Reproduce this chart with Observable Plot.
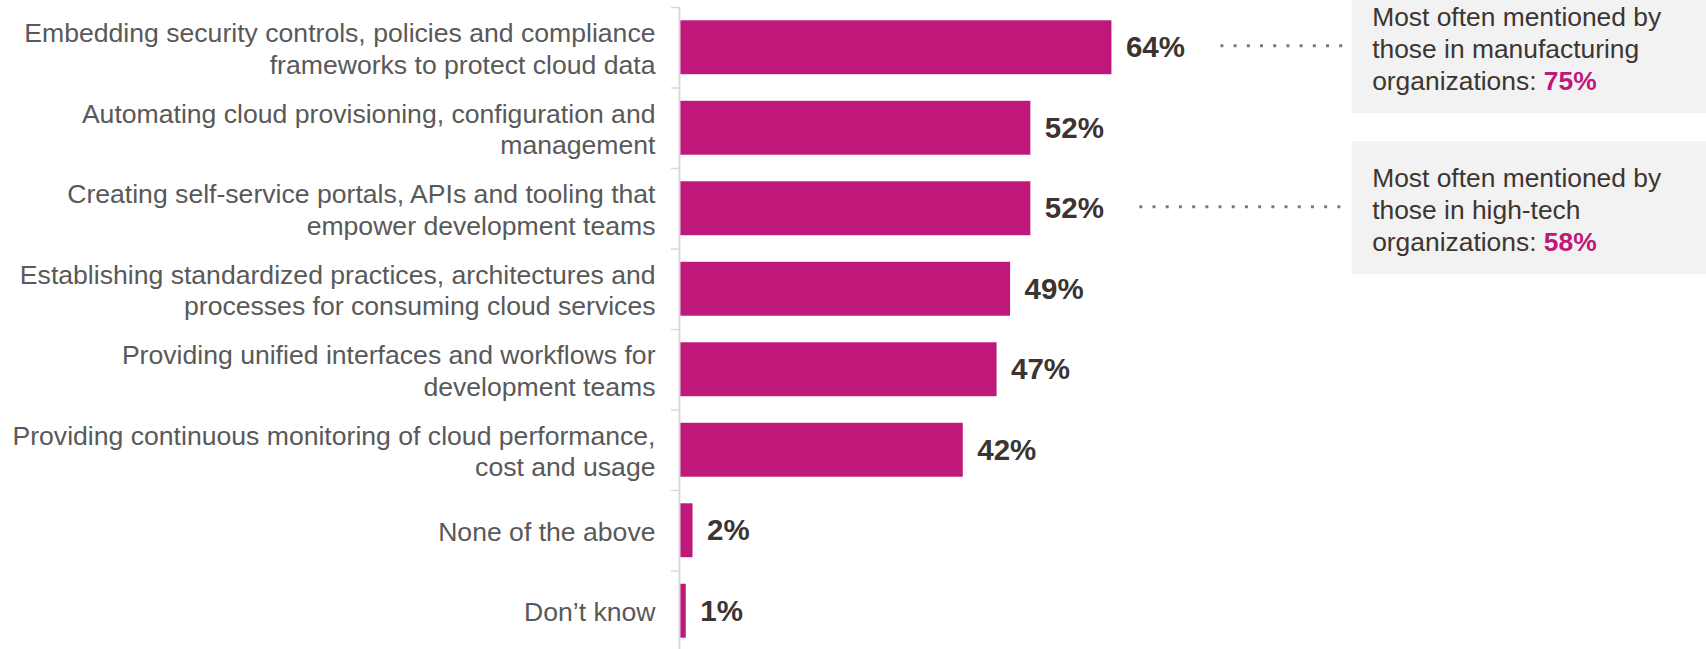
<!DOCTYPE html>
<html><head><meta charset="utf-8">
<script src="https://cdn.jsdelivr.net/npm/d3@7"></script>
<script src="https://cdn.jsdelivr.net/npm/@observablehq/plot@0.6"></script>
<style>html,body{margin:0;padding:0;background:#fff;overflow:hidden}</style>
</head><body><div id="chart"></div>
<script>
// ---- data ----
const categories = [
  "Embedding security controls, policies and compliance\nframeworks to protect cloud data",
  "Automating cloud provisioning, configuration and\nmanagement",
  "Creating self-service portals, APIs and tooling that\nempower development teams",
  "Establishing standardized practices, architectures and\nprocesses for consuming cloud services",
  "Providing unified interfaces and workflows for\ndevelopment teams",
  "Providing continuous monitoring of cloud performance,\ncost and usage",
  "None of the above",
  "Don\u2019t know"
];
const values = [64, 52, 52, 49, 47, 42, 2, 1];
const noteIndex = [0, 2];
const noteTexts = [
  "Most often mentioned by\nthose in manufacturing\norganizations: ",
  "Most often mentioned by\nthose in high-tech\norganizations: "
];
const noteHighlights = ["75%", "58%"];

// ---- tables ----
const data = categories.map((c, i) => ({category: c, value: values[i]}));
const notes = noteIndex.map((idx, i) => ({
  category: categories[idx], value: values[idx], text: noteTexts[i], highlight: noteHighlights[i]
}));

const FONT = "'Liberation Sans', Arial, Helvetica, sans-serif";
const NOTE_SIZE = 26.4;
const ctx = document.createElement("canvas").getContext("2d");
ctx.font = `${NOTE_SIZE}px ${FONT}`;
const lastLineWidth = t => ctx.measureText(t.split("\n").pop()).width;

const W = 1706, H = 649;
const yRange = [7, 651];
const step = (yRange[1] - yRange[0]) / categories.length;
const noteDx = 17;

const chart = Plot.plot({
  width: W, height: H,
  marginLeft: 679, marginRight: 0, marginTop: 7, marginBottom: 0,
  style: {fontFamily: FONT, background: "#fff"},
  x: {domain: [0, 152], axis: null},
  y: {domain: categories, range: yRange, paddingInner: 0.33, paddingOuter: 0.165, round: false, axis: null},
  marks: [
    // annotation boxes
    Plot.barX(notes, {y: "category", x1: () => 100, x2: () => 152, insetTop: -40, insetBottom: -39, insetLeft: -3, fill: "#f2f2f2"}),
    // dotted leaders
    Plot.ruleY(notes, {y: "category", x1: "value", x2: () => 100, insetLeft: 109, insetRight: 8, dy: -2,
      stroke: "#7a7a7a", strokeWidth: 3, strokeDasharray: "3 10.2"}),
    // bars
    Plot.barX(data, {y: "category", x1: () => 0, x2: "value", insetLeft: 1, fill: "#c0177a"}),
    // axis line and boundary ticks
    Plot.ruleX([0], {stroke: "#d9d9d9", strokeWidth: 2}),
    Plot.ruleY(categories, {y: d => d, x1: () => 0, x2: () => 0, insetLeft: -8, dy: -step / 2, stroke: "#d9d9d9", strokeWidth: 1.5}),
    // category labels
    Plot.text(data, {y: "category", x: () => 0, text: "category", dx: -24, textAnchor: "end", lineAnchor: "middle",
      lineHeight: 1.2, fontSize: 26.6, fill: "#595959", fontFamily: FONT}),
    // value labels
    Plot.text(data, {y: "category", x: "value", text: d => d.value + "%", dx: 14, textAnchor: "start",
      fontSize: 29.5, fontWeight: "bold", fill: "#3b3431", fontFamily: FONT}),
    // note texts
    Plot.text(notes, {y: "category", x: () => 100, text: "text", dx: noteDx, textAnchor: "start", lineAnchor: "middle",
      lineHeight: 1.2, fontSize: NOTE_SIZE, fill: "#3d3530", fontFamily: FONT}),
    ...notes.map(n => Plot.text([n], {y: "category", x: () => 100,
      text: d => "\u00a0\n\u00a0\n" + d.highlight, dx: noteDx + lastLineWidth(n.text), textAnchor: "start", lineAnchor: "middle",
      lineHeight: 1.2, fontSize: NOTE_SIZE, fontWeight: "bold", fill: "#c0177a", fontFamily: FONT}))
  ]
});
document.getElementById("chart").appendChild(chart);
</script>
</body></html>
